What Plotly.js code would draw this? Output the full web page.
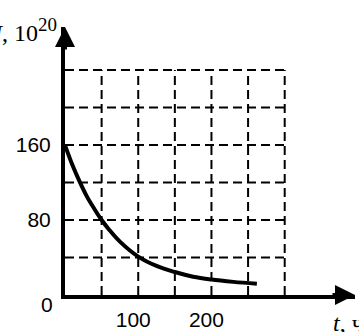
<!DOCTYPE html>
<html>
<head>
<meta charset="utf-8">
<script src="https://cdn.plot.ly/plotly-3.0.1.min.js"></script>
<style>html,body{margin:0;padding:0;background:#fff;}#chart{width:359px;height:332px;}</style>
</head>
<body>
<div id="chart"></div>
<script>
// Data
const tHours = [0, 10, 20, 30, 40, 50, 60, 75, 100, 125, 150, 175, 200, 230, 262];
const nValues = [160, 139, 121, 105, 92, 80, 70, 57, 41, 31, 24.5, 19.5, 16.5, 14, 12];
const xGridVals = [50, 100, 150, 200, 250, 300];
const yGridVals = [40, 80, 120, 160, 200, 240];
const xTickVals = [100, 200];
const xTickText = ['100', '200'];
const yTickVals = [80, 160];
const yTickText = ['80', '160'];

const gridLine = {color: '#000', width: 2, dash: '9px,5px'};
const shapes = [];
xGridVals.forEach(v => shapes.push({type: 'line', xref: 'x', yref: 'y', x0: v, x1: v, y0: 0, y1: yGridVals[yGridVals.length - 1], line: gridLine, layer: 'below'}));
yGridVals.forEach(v => shapes.push({type: 'line', xref: 'x', yref: 'y', x0: 0, x1: xGridVals[xGridVals.length - 1], y0: v, y1: v, line: gridLine, layer: 'below'}));

const trace = {
  x: tHours, y: nValues, type: 'scatter', mode: 'lines',
  line: {color: '#000', width: 4, shape: 'spline', smoothing: 1},
  hoverinfo: 'skip', cliponaxis: false
};

const fontNum = {family: 'Liberation Sans, Arial, sans-serif', size: 21, color: '#000'};
const fontTitle = {family: 'Liberation Serif, Times New Roman, serif', size: 24, color: '#000'};

const layout = {
  width: 359, height: 332,
  margin: {l: 65, r: 4, t: 27, b: 37, pad: 0},
  paper_bgcolor: '#fff', plot_bgcolor: '#fff',
  showlegend: false,
  xaxis: {
    range: [0, 396], showgrid: false, zeroline: false,
    showline: true, linecolor: '#000', linewidth: 4,
    tickvals: xTickVals, ticktext: xTickText, ticks: '',
    tickfont: fontNum, ticklabelshift: -5, ticklabelstandoff: 3, fixedrange: true
  },
  yaxis: {
    range: [0, 286], showgrid: false, zeroline: false,
    showline: true, linecolor: '#000', linewidth: 4,
    tickvals: yTickVals, ticktext: yTickText, ticks: '',
    tickfont: fontNum, ticklabelstandoff: 6, fixedrange: true
  },
  shapes: shapes,
  annotations: [
    {x: 0, y: 286, xref: 'x', yref: 'y', ax: 0, ay: 24, axref: 'pixel', ayref: 'pixel', showarrow: true, arrowhead: 2, arrowsize: 1, arrowwidth: 4, arrowcolor: '#000', text: ''},
    {x: 396, y: 0, xref: 'x', yref: 'y', ax: -24, ay: 0, showarrow: true, arrowhead: 2, arrowsize: 1, arrowwidth: 4, arrowcolor: '#000', text: ''},
    {x: 0, y: 0, xref: 'x', yref: 'y', text: '0', showarrow: false, font: fontNum, xanchor: 'right', yanchor: 'middle', xshift: -10, yshift: -9},
    {x: 0, y: 286, xref: 'x', yref: 'y', text: '<i>N</i>, 10<sup><span style="font-size:19px">20</span></sup>', showarrow: false, font: fontTitle, xanchor: 'right', yanchor: 'top', xshift: -6, yshift: 15},
    {x: 396, y: 0, xref: 'x', yref: 'y', text: '<i>t</i>, ч', showarrow: false, font: fontTitle, xanchor: 'left', yanchor: 'top', xshift: -24, yshift: -13}
  ]
};

Plotly.newPlot('chart', [trace], layout, {displayModeBar: false, staticPlot: true});
</script>
</body>
</html>
